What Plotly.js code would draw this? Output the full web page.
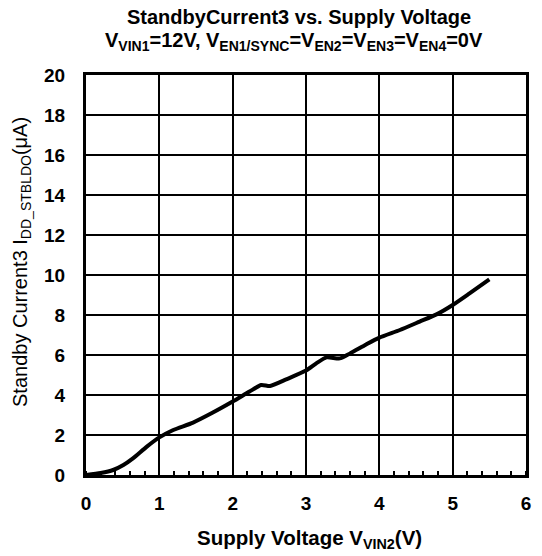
<!DOCTYPE html>
<html>
<head>
<meta charset="utf-8">
<script src="https://cdn.plot.ly/plotly-3.0.1.min.js"></script>
<style>html,body{margin:0;padding:0;background:#fff;}#chart{width:542px;height:556px;}</style>
</head>
<body>
<div id="chart"></div>
<script>
const supplyVoltage = [0, 0.2, 0.37, 0.51, 0.64, 0.83, 1.0, 1.19, 1.46, 1.73, 2.0, 2.23, 2.39, 2.51, 2.73, 3.0, 3.14, 3.28, 3.46, 3.6, 3.82, 4.0, 4.28, 4.55, 4.78, 5.0, 5.23, 5.5];
const standbyCurrent = [0, 0.1, 0.25, 0.5, 0.83, 1.42, 1.88, 2.25, 2.62, 3.12, 3.67, 4.17, 4.5, 4.45, 4.78, 5.22, 5.58, 5.88, 5.83, 6.08, 6.53, 6.87, 7.25, 7.67, 8.03, 8.5, 9.08, 9.78];
const xTicks = [0, 1, 2, 3, 4, 5, 6];
const yTicks = [0, 2, 4, 6, 8, 10, 12, 14, 16, 18, 20];
const titleLine1 = '<b>StandbyCurrent3 vs. Supply Voltage</b>';
const titleLine2 = '<b>V<sub>VIN1</sub>=12V, V<sub>EN1/SYNC</sub>=V<sub>EN2</sub>=V<sub>EN3</sub>=V<sub>EN4</sub>=0V</b>';
const yTitle = 'Standby Current3 I<sub>DD_STBLDO</sub>(μA)';
const xTitle = '<b>Supply Voltage V<sub>VIN2</sub>(V)</b>';

const FONT = 'Liberation Sans, Arial, sans-serif';

Plotly.newPlot('chart', [{
  x: supplyVoltage,
  y: standbyCurrent,
  type: 'scatter',
  mode: 'lines',
  line: {color: '#000', width: 4, shape: 'spline', smoothing: 0.6},
  hoverinfo: 'none'
}], {
  width: 542, height: 556,
  margin: {l: 86, r: 16, t: 75, b: 81},
  paper_bgcolor: '#fff', plot_bgcolor: '#fff',
  showlegend: false,
  font: {family: FONT, color: '#000'},
  annotations: [
    {text: titleLine1, xref: 'paper', yref: 'paper', x: (299 - 86) / 440, y: 1 + (75 - 17.5) / 400,
     xanchor: 'center', yanchor: 'middle', showarrow: false, font: {family: FONT, size: 20, color: '#000'}},
    {text: titleLine2, xref: 'paper', yref: 'paper', x: (294 - 86) / 440, y: 1 + (75 - 41) / 400,
     xanchor: 'center', yanchor: 'middle', showarrow: false, font: {family: FONT, size: 20, color: '#000'}},
    {text: yTitle, xref: 'paper', yref: 'paper', x: (21 - 86) / 440, y: (475 - 262) / 400, textangle: -90,
     xanchor: 'center', yanchor: 'middle', showarrow: false, font: {family: FONT, size: 20, color: '#000'}},
    {text: xTitle, xref: 'paper', yref: 'paper', x: (309 - 86) / 440, y: -(539 - 475) / 400,
     xanchor: 'center', yanchor: 'middle', showarrow: false, font: {family: FONT, size: 20.5, color: '#000'}}
  ],
  xaxis: {
    range: [0, 6], tickvals: xTicks, ticktext: xTicks.map(String),
    showgrid: true, gridcolor: '#000', gridwidth: 2,
    showline: true, linecolor: '#000', linewidth: 3, mirror: true,
    ticks: 'outside', ticklen: 9, tickcolor: 'rgba(0,0,0,0)', zeroline: false,
    tickfont: {family: FONT, size: 19, color: '#000', weight: 'bold'},
    minor: {dtick: 0.2, ticks: 'inside', ticklen: 4, tickwidth: 2, tickcolor: '#000', showgrid: false}
  },
  yaxis: {
    range: [0, 20], tickvals: yTicks, ticktext: yTicks.map(String),
    showgrid: true, gridcolor: '#000', gridwidth: 2,
    showline: true, linecolor: '#000', linewidth: 3, mirror: true,
    ticks: 'outside', ticklen: 14, tickcolor: 'rgba(0,0,0,0)', zeroline: false,
    tickfont: {family: FONT, size: 19, color: '#000', weight: 'bold'}
  }
}, {staticPlot: true});
</script>
</body>
</html>
